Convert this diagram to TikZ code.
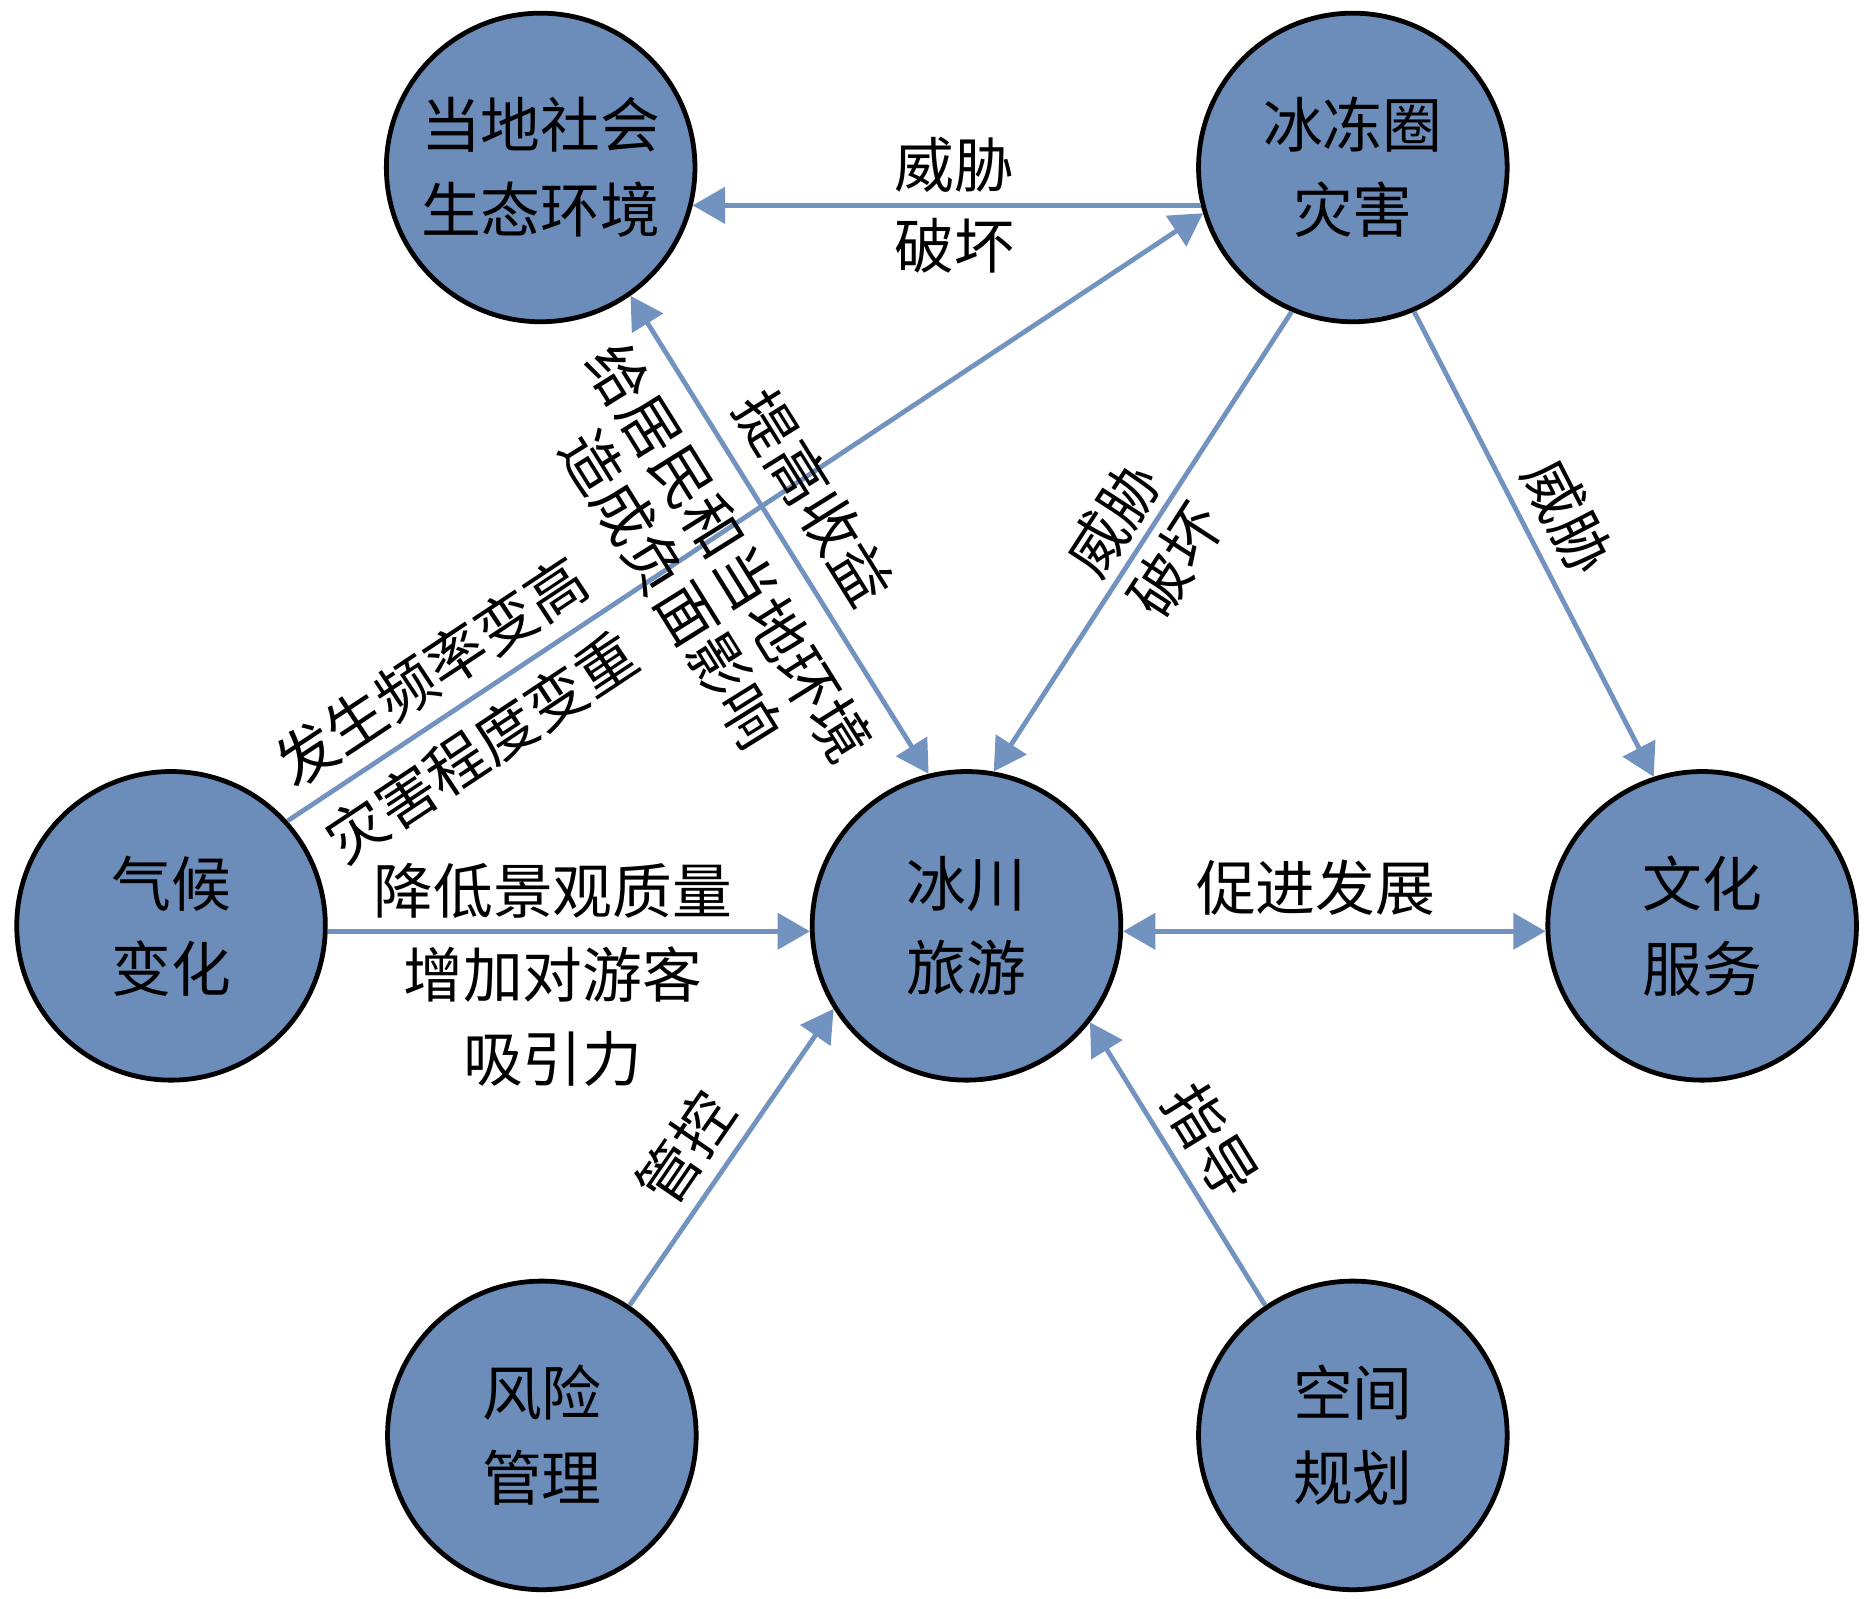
\documentclass[tikz,border=0pt]{standalone}
\usepackage{fontspec}
\setmainfont{Noto Sans CJK SC}
\usetikzlibrary{arrows.meta}
\definecolor{nodefill}{RGB}{108,141,185}
\definecolor{arrowblue}{RGB}{114,147,191}
\begin{document}
\begin{tikzpicture}[x=1pt,y=-1pt,
  hub/.style={circle, draw=black, line width=4pt, fill=nodefill, minimum size=258pt, inner sep=0pt, align=center, font=\fontsize{50}{71}\selectfont},
  arr/.style={draw=arrowblue, line width=4pt, -{Triangle[length=27pt,width=30pt]}},
  biarr/.style={draw=arrowblue, line width=4pt, {Triangle[length=27pt,width=30pt]}-{Triangle[length=27pt,width=30pt]}},
  lbl/.style={font=\fontsize{50}{71}\selectfont, align=center, inner sep=0pt, outer sep=0pt, text=black},
]
\useasboundingbox (0,0) rectangle (1560,1336);
\node[hub] (A) at (452,140) {当地社会\\生态环境};
\node[hub] (B) at (1131,140) {冰冻圈\\灾害};
\node[hub] (C) at (143,774) {气候\\变化};
\node[hub] (D) at (808,774) {冰川\\旅游};
\node[hub] (E) at (1423,774) {文化\\服务};
\node[hub] (F) at (453,1200) {风险\\管理};
\node[hub] (G) at (1131,1200) {空间\\规划};

\draw[arr] (B.194.8) -- node[lbl, pos=0.485, font=\fontsize{50}{68}\selectfont]{威胁\\破坏} (A.-14.8);
\draw[arr] (C.42) -- node[lbl, pos=0.184, sloped, font=\fontsize{50}{76}\selectfont]{发生频率变高\\灾害程度变重} (B.197);
\draw[biarr] (A.-55) -- node[lbl, pos=0.477, sloped, anchor=south, inner sep=18pt]{提高收益}
  node[lbl, pos=0.48, sloped, anchor=north, inner sep=20pt, font=\fontsize{50}{57}\selectfont]{给居民和当地环境\\造成负面影响} (D.104);
\draw[arr] (B.247) -- node[lbl, pos=0.495, sloped, font=\fontsize{50}{63}\selectfont]{威胁\\破坏} (D.80);
\draw[arr] (B.-67.5) -- node[lbl, pos=0.483, sloped, anchor=south, inner sep=13pt]{威胁} (E.108);
\draw[arr] (C.-2.6) -- node[lbl, pos=0.467, anchor=south, inner sep=11pt]{降低景观质量}
  node[lbl, pos=0.467, anchor=north, inner sep=13pt, font=\fontsize{50}{70}\selectfont]{增加对游客\\吸引力} (D.182.6);
\draw[biarr] (D.-2.6) -- node[lbl, pos=0.456, anchor=south, inner sep=13.5pt]{促进发展} (E.182.6);
\draw[arr] (F.56.7) -- node[lbl, pos=0.447, sloped, anchor=south, inner sep=12.5pt]{管控} (D.212);
\draw[arr] (G.124) -- node[lbl, pos=0.506, sloped, anchor=south, inner sep=11.5pt]{指导} (D.-38);
\end{tikzpicture}
\end{document}
